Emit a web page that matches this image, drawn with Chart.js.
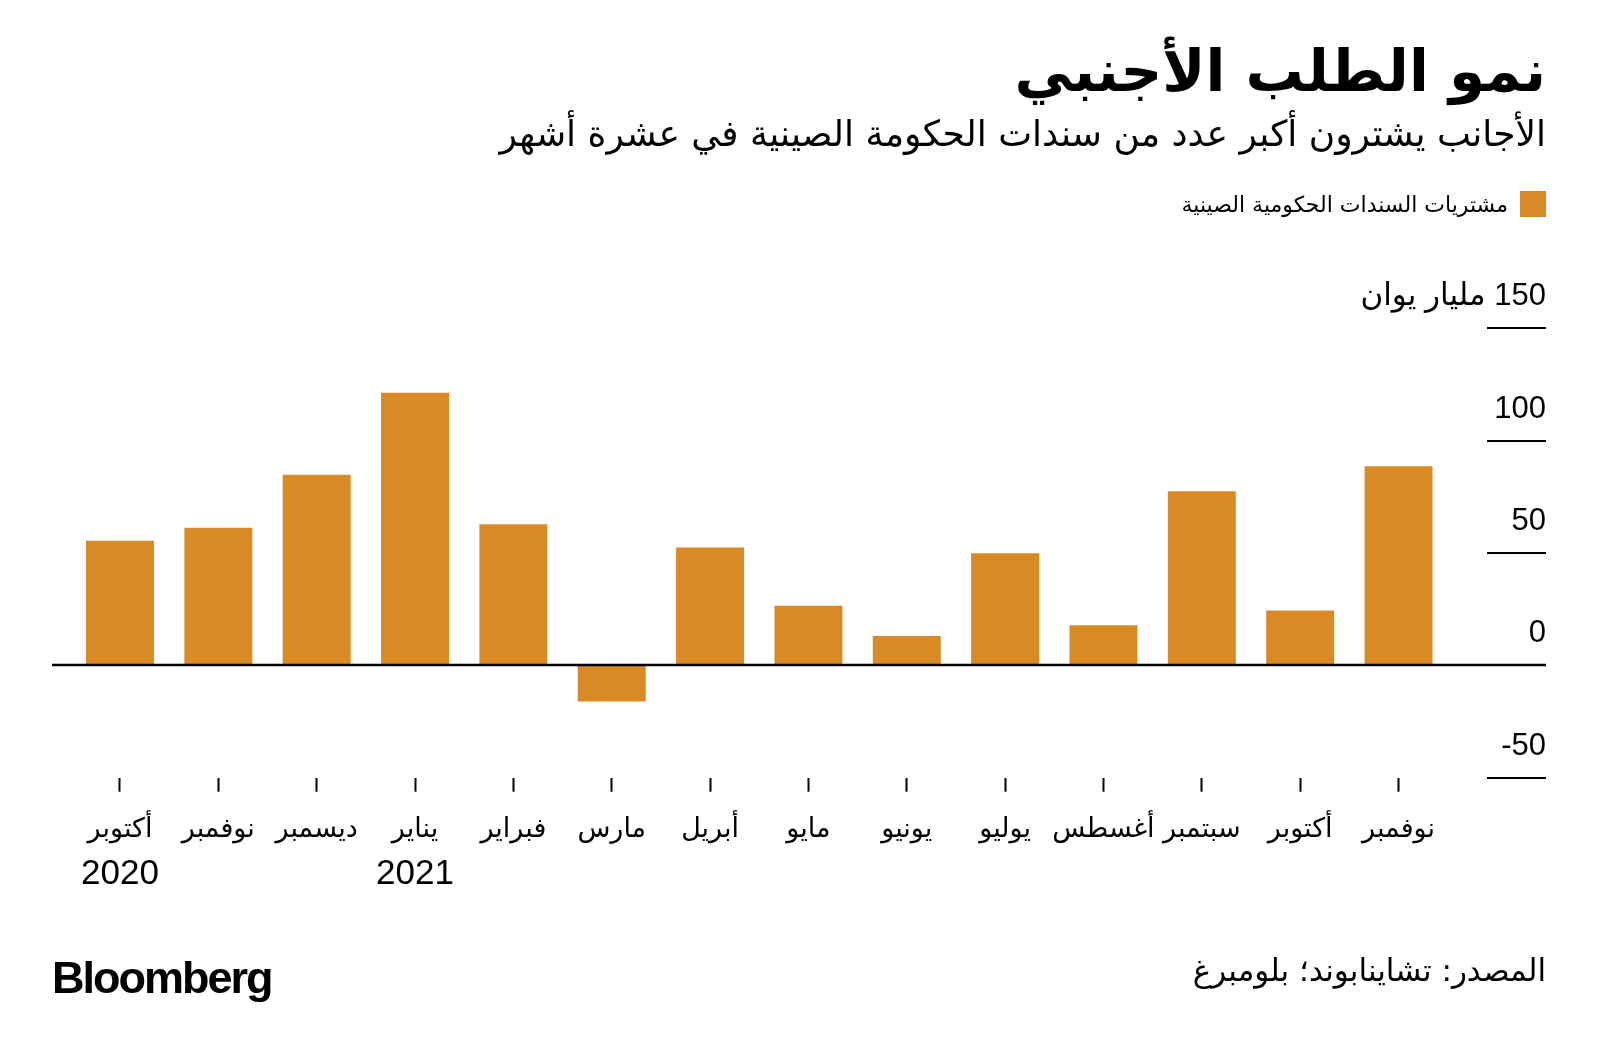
<!DOCTYPE html>
<html lang="ar">
<head>
<meta charset="utf-8">
<script src="https://cdn.jsdelivr.net/npm/chart.js@4.4.1/dist/chart.umd.min.js"></script>
<style>
  html, body { margin: 0; padding: 0; background: #fff; }
  #page { position: relative; width: 1600px; height: 1057px; overflow: hidden; font-family: "Liberation Sans", "DejaVu Sans", sans-serif; color: #000; }
  #chart { position: absolute; left: 0; top: 0; }
  .txt { position: absolute; right: 54px; direction: rtl; white-space: nowrap; line-height: 1; }
  #title { top: 42px; font-size: 58px; font-weight: bold; font-family: "DejaVu Sans", sans-serif; }
  #subtitle { top: 116px; font-size: 36px; font-family: "DejaVu Sans", sans-serif; }
  #legend { top: 191px; right: 54px; height: 26px; display: flex; align-items: center; direction: rtl; position: absolute; }
  #legend .sw { width: 26px; height: 26px; background: #DA8A24; margin-left: 12px; }
  #legend span { font-size: 22px; font-family: "DejaVu Sans", sans-serif; }
  #source { top: 955px; font-size: 31px; font-family: "DejaVu Sans", sans-serif; }
  #logo { position: absolute; left: 52px; top: 952px; font-size: 45px; font-weight: bold; letter-spacing: -2px; font-family: "Liberation Sans", sans-serif; }
</style>
</head>
<body>
<div id="page">
  <canvas id="chart" width="1600" height="1057"></canvas>
  <div class="txt" id="title">نمو الطلب الأجنبي</div>
  <div class="txt" id="subtitle">الأجانب يشترون أكبر عدد من سندات الحكومة الصينية في عشرة أشهر</div>
  <div id="legend"><div class="sw"></div><span>مشتريات السندات الحكومية الصينية</span></div>
  <div class="txt" id="source">المصدر: تشاينابوند؛ بلومبرغ</div>
  <div id="logo">Bloomberg</div>
</div>
<script>
// months, left to right as in the picture
var months = ['أكتوبر', 'نوفمبر', 'ديسمبر', 'يناير', 'فبراير', 'مارس', 'أبريل', 'مايو', 'يونيو', 'يوليو', 'أغسطس', 'سبتمبر', 'أكتوبر', 'نوفمبر'];
var years = ['2020', '', '', '2021', '', '', '', '', '', '', '', '', '', ''];
// foreign purchases of Chinese government bonds, billion yuan
var purchases = [55.4, 61.2, 84.8, 121.3, 62.8, -16.1, 52.4, 26.5, 13.0, 49.9, 17.8, 77.5, 24.4, 88.6];
var yTicks = [-50, 0, 50, 100, 150];
var yUnit = 'مليار يوان';

var barColor = '#DA8A24';

// right hand value labels with short rules, plus the zero line
var axisDecor = {
    id: 'axisDecor',
    afterDatasetsDraw: function (chart) {
        var ctx = chart.ctx;
        var y = chart.scales.y;
        ctx.save();
        ctx.strokeStyle = '#000';
        ctx.fillStyle = '#000';
        ctx.font = '31px "Liberation Sans", "DejaVu Sans", sans-serif';
        ctx.textAlign = 'right';
        ctx.textBaseline = 'alphabetic';
        yTicks.forEach(function (v, i) {
            var py = Math.round(y.getPixelForValue(v));
            ctx.lineWidth = 2;
            ctx.beginPath();
            ctx.moveTo(1487, py);
            ctx.lineTo(1546, py);
            ctx.stroke();
            var top = i === yTicks.length - 1;
            ctx.direction = top ? 'rtl' : 'ltr';
            ctx.fillText(top ? v + ' ' + yUnit : String(v), 1546, py - 23);
        });
        var z = Math.round(y.getPixelForValue(0));
        ctx.lineWidth = 2.5;
        ctx.beginPath();
        ctx.moveTo(52, z);
        ctx.lineTo(1546, z);
        ctx.stroke();
        ctx.restore();
    }
};

var ctx = document.getElementById('chart').getContext('2d');
var chart = new Chart(ctx, {
    type: 'bar',
    data: {
        labels: months,
        datasets: [{
            label: 'مشتريات السندات الحكومية الصينية',
            data: purchases,
            backgroundColor: barColor,
            borderWidth: 0,
            categoryPercentage: 1,
            barPercentage: 0.691
        }]
    },
    options: {
        responsive: false,
        animation: false,
        layout: { padding: { left: 70.8, right: 152.3, top: 328.2, bottom: 0 } },
        plugins: { legend: { display: false }, tooltip: { enabled: false } },
        scales: {
            x: {
                weight: 0,
                offset: true,
                grid: { offset: false, drawOnChartArea: false, drawTicks: true, tickLength: 14, tickColor: '#000', tickWidth: 2 },
                border: { display: false },
                ticks: {
                    color: '#000',
                    padding: 22,
                    maxRotation: 0,
                    autoSkip: false,
                    font: { family: '"DejaVu Sans", sans-serif', size: 27, lineHeight: 1.2 }
                },
                afterFit: function (scale) { scale.height = 70; }
            },
            x2: {
                type: 'category',
                position: 'bottom',
                weight: 1,
                offset: true,
                labels: years,
                grid: { display: false },
                border: { display: false },
                ticks: {
                    color: '#000',
                    padding: -2,
                    maxRotation: 0,
                    autoSkip: false,
                    font: { family: '"Liberation Sans", sans-serif', size: 35, lineHeight: 1.2 }
                },
                afterFit: function (scale) { scale.height = 1057 - 777.7 - 70; }
            },
            y: {
                display: false,
                min: -50,
                max: 150,
                ticks: { stepSize: 50 }
            }
        }
    },
    plugins: [axisDecor]
});
</script>
</body>
</html>
